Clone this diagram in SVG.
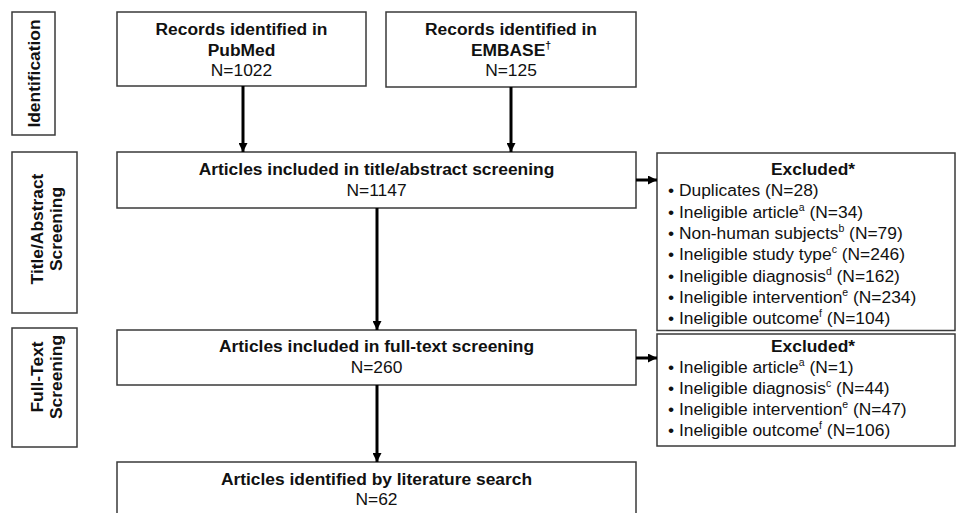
<svg xmlns="http://www.w3.org/2000/svg" width="956" height="513" viewBox="0 0 956 513">
<style>
.box{fill:#fff;stroke:#3a3a3a;stroke-width:1.5}
text{font-family:"Liberation Sans",Arial,sans-serif;font-size:17.4px;fill:#111}
.b{font-weight:bold}
.c{text-anchor:middle}
.sup{font-size:10.5px}
.conn{stroke:#000;stroke-width:3;fill:none}
</style>
<defs>
<marker id="ah" viewBox="0 0 10 10" refX="10" refY="5" markerWidth="10" markerHeight="9" markerUnits="userSpaceOnUse" orient="auto">
<path d="M0,0 L10,5 L0,10 z" fill="#000"/>
</marker>
</defs>
<rect width="956" height="513" fill="#fff"/>

<g id="label-identification">
<rect class="box" x="12" y="12" width="43" height="123"/>
<text class="b c" transform="translate(33.5,73.5) rotate(-90)" x="0" y="6.5">Identification</text>
</g>
<g id="label-title-abstract">
<rect class="box" x="12" y="152" width="65" height="161"/>
<text class="b c" transform="translate(44.5,229) rotate(-90)"><tspan x="0" y="-2">Title/Abstract</tspan><tspan x="0" y="17">Screening</tspan></text>
</g>
<g id="label-full-text">
<rect class="box" x="12" y="328" width="65" height="119"/>
<text class="b c" transform="translate(44.5,377) rotate(-90)"><tspan x="0" y="-2">Full-Text</tspan><tspan x="0" y="17">Screening</tspan></text>
</g>

<g id="pubmed">
<rect class="box" x="117" y="12" width="249" height="74"/>
<text class="c" x="241.5"><tspan class="b" x="241.5" y="35">Records identified in</tspan><tspan class="b" x="241.5" y="55.5">PubMed</tspan><tspan x="241.5" y="76">N=1022</tspan></text>
</g>
<g id="embase">
<rect class="box" x="386" y="12" width="250" height="75"/>
<text class="c" x="511"><tspan class="b" x="511" y="35">Records identified in</tspan><tspan class="b" x="511" y="55.5">EMBASE<tspan class="sup" dy="-7">†</tspan></tspan><tspan x="511" y="76">N=125</tspan></text>
</g>
<g id="title-abstract">
<rect class="box" x="117" y="152" width="519" height="56"/>
<text class="b c" x="376.5" y="175">Articles included in title/abstract screening</text>
<text class="c" x="376.5" y="196">N=1147</text>
</g>
<g id="full-text">
<rect class="box" x="117" y="330" width="519" height="55"/>
<text class="b c" x="376.5" y="352">Articles included in full-text screening</text>
<text class="c" x="376.5" y="373">N=260</text>
</g>
<g id="final">
<rect class="box" x="117" y="462" width="519" height="60"/>
<text class="b c" x="376.5" y="485">Articles identified by literature search</text>
<text class="c" x="376.5" y="505">N=62</text>
</g>

<g id="excluded-1">
<rect class="box" x="657" y="153" width="298" height="177.5"/>
<text class="b c" x="813" y="175">Excluded*</text>
<text x="668" y="196.3">• Duplicates (N=28)</text>
<text x="668" y="217.6">• Ineligible article<tspan class="sup" dy="-7">a</tspan><tspan dy="7"> (N=34)</tspan></text>
<text x="668" y="239">• Non-human subjects<tspan class="sup" dy="-7">b</tspan><tspan dy="7"> (N=79)</tspan></text>
<text x="668" y="260.3">• Ineligible study type<tspan class="sup" dy="-7">c</tspan><tspan dy="7"> (N=246)</tspan></text>
<text x="668" y="281.6">• Ineligible diagnosis<tspan class="sup" dy="-7">d</tspan><tspan dy="7"> (N=162)</tspan></text>
<text x="668" y="303">• Ineligible intervention<tspan class="sup" dy="-7">e</tspan><tspan dy="7"> (N=234)</tspan></text>
<text x="668" y="324.3">• Ineligible outcome<tspan class="sup" dy="-7">f</tspan><tspan dy="7"> (N=104)</tspan></text>
</g>
<g id="excluded-2">
<rect class="box" x="657" y="334" width="298" height="112"/>
<text class="b c" x="813" y="352">Excluded*</text>
<text x="668" y="372.7">• Ineligible article<tspan class="sup" dy="-7">a</tspan><tspan dy="7"> (N=1)</tspan></text>
<text x="668" y="393.6">• Ineligible diagnosis<tspan class="sup" dy="-7">c</tspan><tspan dy="7"> (N=44)</tspan></text>
<text x="668" y="415">• Ineligible intervention<tspan class="sup" dy="-7">e</tspan><tspan dy="7"> (N=47)</tspan></text>
<text x="668" y="436">• Ineligible outcome<tspan class="sup" dy="-7">f</tspan><tspan dy="7"> (N=106)</tspan></text>
</g>

<g id="connectors">
<line class="conn" x1="243" y1="86" x2="243" y2="152" marker-end="url(#ah)"/>
<line class="conn" x1="511" y1="87" x2="511" y2="152" marker-end="url(#ah)"/>
<line class="conn" x1="377" y1="208" x2="377" y2="330" marker-end="url(#ah)"/>
<line class="conn" x1="377" y1="385" x2="377" y2="462" marker-end="url(#ah)"/>
<line class="conn" x1="636" y1="180" x2="657" y2="180" marker-end="url(#ah)"/>
<line class="conn" x1="636" y1="358" x2="657" y2="358" marker-end="url(#ah)"/>
</g>
</svg>
